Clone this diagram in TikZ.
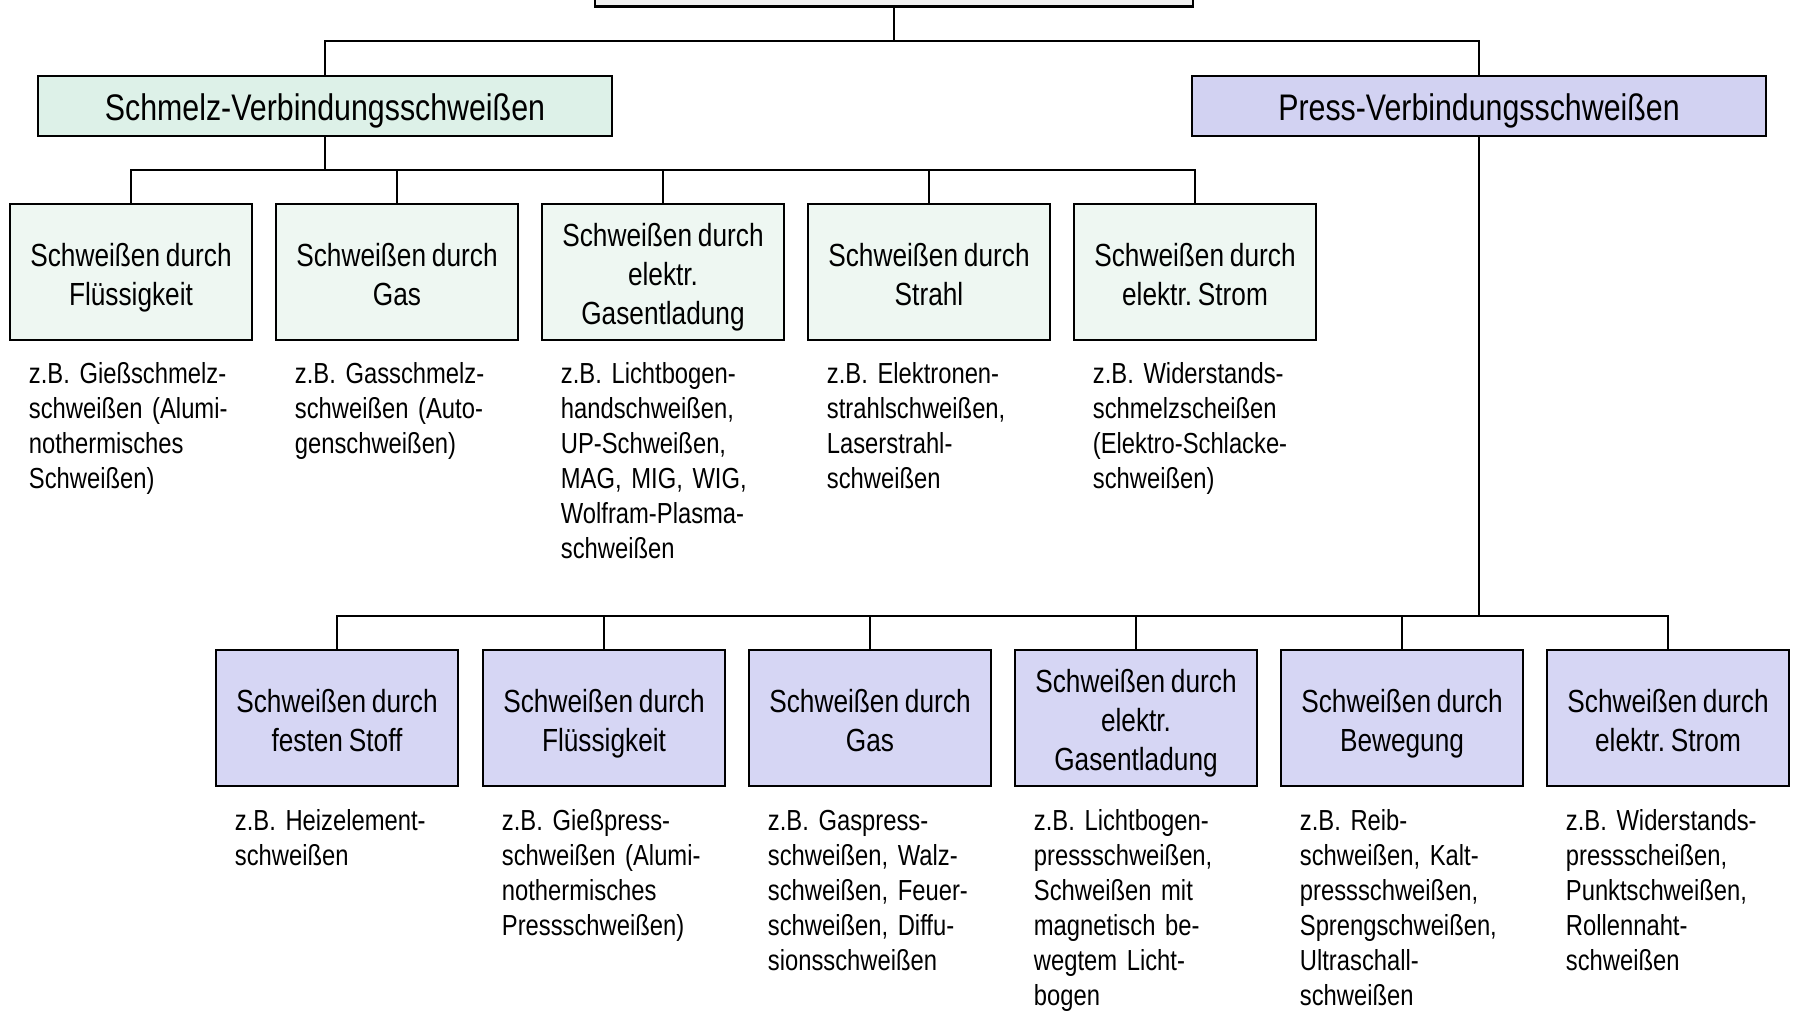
\documentclass[tikz,border=0pt]{standalone}
\usepackage{fontspec}
\setmainfont{Liberation Sans}[FakeStretch=0.82, WordSpace=0.8]
\usetikzlibrary{calc}
\frenchspacing
\definecolor{topgray}{HTML}{F0F0F0}
\definecolor{schtitle}{HTML}{DDF1E8}
\definecolor{schfill}{HTML}{EEF7F2}
\definecolor{pretitle}{HTML}{D2D2F2}
\definecolor{prefill}{HTML}{D6D6F4}
\newcommand\hstr{\rule{0pt}{35pt}}
\newcommand\dstr{\rule[-7.5pt]{0pt}{7.5pt}}
\begin{document}
\begin{tikzpicture}[x=1pt,y=-1pt,
  conn/.style={line width=2.5pt, draw=black},
  catbox/.style={draw, line width=2.6pt, minimum width=242pt, minimum height=136pt, inner sep=0pt, align=center, font=\fontsize{32}{39}\selectfont\frenchspacing},
  schbox/.style={catbox, fill=schfill},
  prebox/.style={catbox, fill=prefill},
  titlebox/.style={draw, line width=2.6pt, minimum width=574pt, minimum height=60pt, inner sep=0pt, text height=36pt, text depth=7.5pt, font=\fontsize{37}{44}\selectfont},
  example/.style={anchor=base west, text width=280pt, align=left, inner sep=0pt, font=\fontsize{29}{35}\selectfont\frenchspacing}
]
\path[use as bounding box, clip] (0,0) rectangle (1797,1011);

% top box (cut by the page edge)
\node[draw, line width=2.6pt, fill=topgray, minimum width=598pt, minimum height=80pt, inner sep=0pt, anchor=south] (top) at (894,8) {};

% level 1
\node[titlebox, fill=schtitle] (schmelz) at (325,106) {Schmelz-Verbindungsschweißen};
\node[titlebox, fill=pretitle] (press) at (1479,106) {Press-Verbindungsschweißen};

% Schmelz children
\node[schbox] (c1) at (131,272) {\hstr Schweißen durch\\Flüssigkeit\dstr};
\node[schbox] (c2) at (397,272) {\hstr Schweißen durch\\Gas\dstr};
\node[schbox] (c3) at (663,272) {\hstr Schweißen durch\\elektr.\\Gasentladung\dstr};
\node[schbox] (c4) at (929,272) {\hstr Schweißen durch\\Strahl\dstr};
\node[schbox] (c5) at (1195,272) {\hstr Schweißen durch\\elektr. Strom\dstr};

% Press children
\node[prebox] (d1) at (337,718) {\hstr Schweißen durch\\festen Stoff\dstr};
\node[prebox] (d2) at (604,718) {\hstr Schweißen durch\\Flüssigkeit\dstr};
\node[prebox] (d3) at (870,718) {\hstr Schweißen durch\\Gas\dstr};
\node[prebox] (d4) at (1136,718) {\hstr Schweißen durch\\elektr.\\Gasentladung\dstr};
\node[prebox] (d5) at (1402,718) {\hstr Schweißen durch\\Bewegung\dstr};
\node[prebox] (d6) at (1668,718) {\hstr Schweißen durch\\elektr. Strom\dstr};

% examples row 1
\node[example] (e1) at ($(c1.south west)+(20,42)$) {z.B. Gießschmelz-\\schweißen (Alumi-\\nothermisches\\Schweißen)};
\node[example] (e2) at ($(c2.south west)+(20,42)$) {z.B. Gasschmelz-\\schweißen (Auto-\\genschweißen)};
\node[example] (e3) at ($(c3.south west)+(20,42)$) {z.B. Lichtbogen-\\handschweißen,\\UP-Schweißen,\\MAG, MIG, WIG,\\Wolfram-Plasma-\\schweißen};
\node[example] (e4) at ($(c4.south west)+(20,42)$) {z.B. Elektronen-\\strahlschweißen,\\Laserstrahl-\\schweißen};
\node[example] (e5) at ($(c5.south west)+(20,42)$) {z.B. Widerstands-\\schmelzscheißen\\(Elektro-Schlacke-\\schweißen)};

% examples row 2
\node[example] (f1) at ($(d1.south west)+(20,43)$) {z.B. Heizelement-\\schweißen};
\node[example] (f2) at ($(d2.south west)+(20,43)$) {z.B. Gießpress-\\schweißen (Alumi-\\nothermisches\\Pressschweißen)};
\node[example] (f3) at ($(d3.south west)+(20,43)$) {z.B. Gaspress-\\schweißen, Walz-\\schweißen, Feuer-\\schweißen, Diffu-\\sionsschweißen};
\node[example] (f4) at ($(d4.south west)+(20,43)$) {z.B. Lichtbogen-\\pressschweißen,\\Schweißen mit\\magnetisch be-\\wegtem Licht-\\bogen};
\node[example] (f5) at ($(d5.south west)+(20,43)$) {z.B. Reib-\\schweißen, Kalt-\\pressschweißen,\\Sprengschweißen,\\Ultraschall-\\schweißen};
\node[example] (f6) at ($(d6.south west)+(20,43)$) {z.B. Widerstands-\\pressscheißen,\\Punktschweißen,\\Rollennaht-\\schweißen};

% connectors
\coordinate (j0) at (894,41);
\draw[conn] (top.south) -- (j0);
\draw[conn] (schmelz.north) |- (j0);
\draw[conn] (press.north) |- (j0);

\coordinate (j1) at (325,170);
\draw[conn] (schmelz.south) -- (j1);
\foreach \n in {c1,c2,c3,c4,c5} \draw[conn] (\n.north) |- (j1);

\coordinate (j2) at (1479,616);
\draw[conn] (press.south) -- (j2);
\foreach \n in {d1,d2,d3,d4,d5,d6} \draw[conn] (\n.north) |- (j2);
\end{tikzpicture}
\end{document}
